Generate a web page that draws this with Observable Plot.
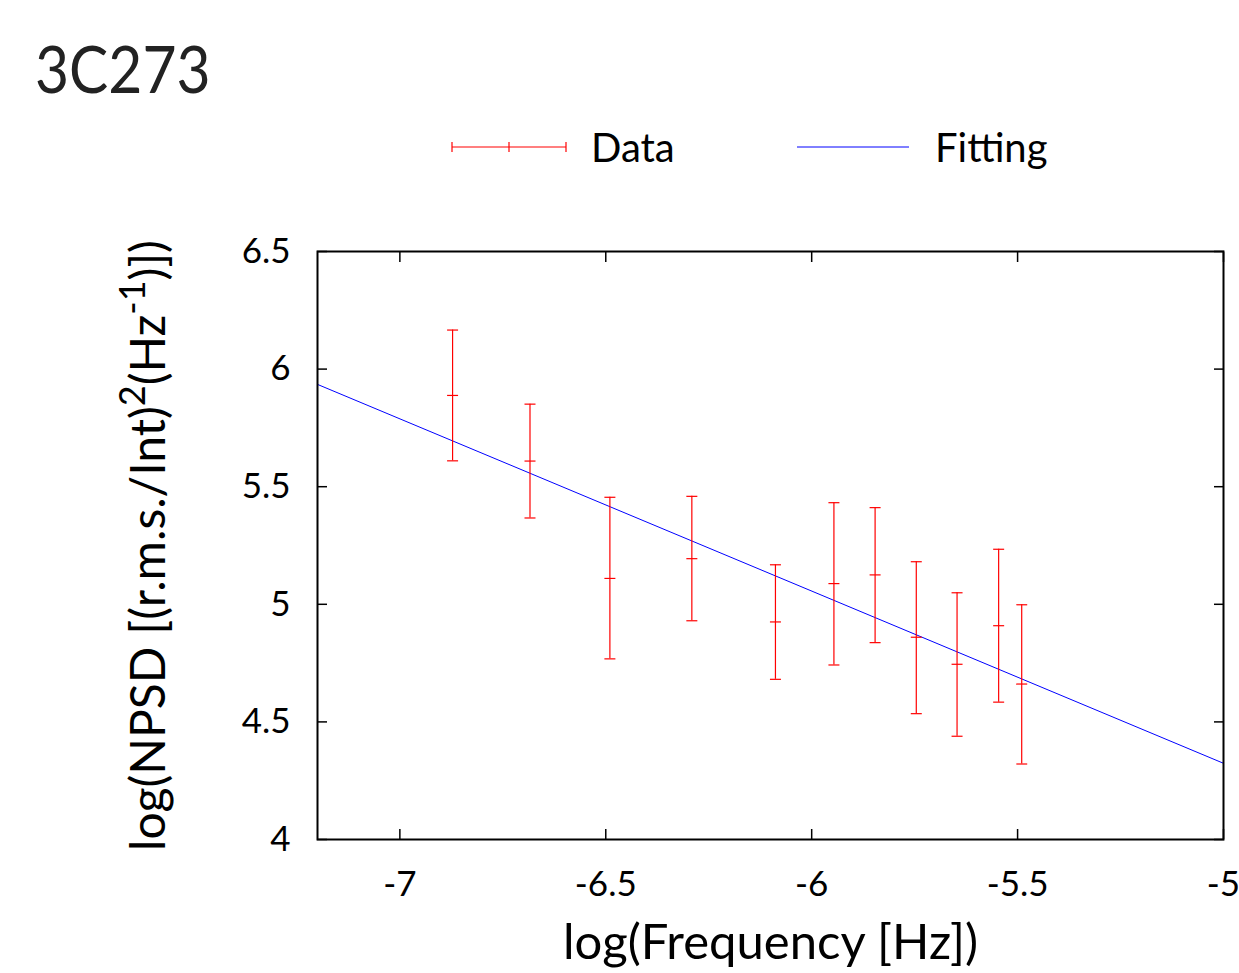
<!DOCTYPE html>
<html><head><meta charset="utf-8">
<script src="https://cdn.jsdelivr.net/npm/d3@7"></script>
<script src="https://cdn.jsdelivr.net/npm/@observablehq/plot@0.6"></script>
<style>
body{margin:0;background:#fff;font-family:Lato, sans-serif;}
#wrap{position:relative;width:1239px;height:973px;overflow:hidden;background:#fff;}
#title{position:absolute;left:35px;top:35px;font-size:66px;line-height:66px;color:#222;white-space:nowrap;transform:scaleX(0.89);transform-origin:left top;}
.leg{position:absolute;top:127px;font-size:40px;line-height:40px;color:#000;white-space:nowrap;}
#legsvg{position:absolute;left:0;top:0;}
#chart{position:absolute;left:0;top:200px;}
</style></head><body>
<div id="wrap">
  <div id="title">3C273</div>
  <svg id="legsvg" width="1239" height="200">
    <g stroke="#ff0000" stroke-width="1.2">
      <line x1="452" y1="147" x2="566" y2="147"/>
      <line x1="452" y1="142" x2="452" y2="152"/>
      <line x1="566" y1="142" x2="566" y2="152"/>
      <line x1="509" y1="142" x2="509" y2="152"/>
    </g>
    <line x1="797" y1="147" x2="909" y2="147" stroke="#0000ff" stroke-width="1"/>
  </svg>
  <div class="leg" style="left:591px">Data</div>
  <div class="leg" style="left:935px">Fitting</div>
  <div id="chart"></div>
</div>
<script>
// log(Frequency [Hz])
const freq  = [-6.872, -6.684, -6.490, -6.291, -6.088, -5.946, -5.846, -5.746, -5.647, -5.546, -5.490];
// log(NPSD)
const npsd  = [5.888, 5.609, 5.110, 5.194, 4.925, 5.088, 5.125, 4.860, 4.745, 4.909, 4.661];
const upper = [6.166, 5.851, 5.455, 5.459, 5.168, 5.432, 5.411, 5.181, 5.049, 5.234, 4.998];
const lower = [5.610, 5.367, 4.768, 4.930, 4.681, 4.742, 4.837, 4.535, 4.439, 4.584, 4.321];
// fitted line end points
const fitFreq = [-7.2, -5];
const fitNpsd = [5.935, 4.324];
const xTicks = [-7, -6.5, -6, -5.5, -5];
const yTicks = [4, 4.5, 5, 5.5, 6, 6.5];

const points = freq.map((f, i) => ({f, v: npsd[i], lo: lower[i], hi: upper[i]}));
const fit = fitFreq.map((f, i) => ({f, v: fitNpsd[i]}));

const hline = {draw(ctx, size) { const r = Math.sqrt(size / Math.PI); ctx.moveTo(-r, 0); ctx.lineTo(r, 0); }};
const red = "#ff0000";

const chart = Plot.plot({
  width: 1239, height: 773,
  marginTop: 51, marginBottom: 134, marginLeft: 317, marginRight: 16,
  style: {fontFamily: "Lato, sans-serif", fontSize: "35px", background: "transparent", color: "#000", overflow: "visible"},
  x: {domain: [-7.2, -5]},
  y: {domain: [4, 6.5]},
  marks: [
    Plot.line(fit, {x: "f", y: "v", stroke: "#0000ff", strokeWidth: 1}),
    Plot.ruleX(points, {x: "f", y1: "lo", y2: "hi", stroke: red, strokeWidth: 1.2}),
    Plot.dot(points, {x: "f", y: "lo", symbol: hline, r: 5.5, stroke: red, fill: "none", strokeWidth: 1.2}),
    Plot.dot(points, {x: "f", y: "hi", symbol: hline, r: 5.5, stroke: red, fill: "none", strokeWidth: 1.2}),
    Plot.dot(points, {x: "f", y: "v", symbol: hline, r: 5.5, stroke: red, fill: "none", strokeWidth: 1.2}),
    Plot.frame({stroke: "#000", strokeWidth: 2}),
    Plot.axisX(xTicks, {anchor: "bottom", tickSize: 0, tickPadding: 32, tickFormat: d => String(d), label: null}),
    Plot.axisY(yTicks, {anchor: "left", tickSize: 0, tickPadding: 27, tickFormat: d => String(d), label: null}),
    Plot.axisX(xTicks, {anchor: "bottom", tickSize: -10, fill: "none", strokeWidth: 1.5, label: null}),
    Plot.axisX(xTicks, {anchor: "top", tickSize: -10, fill: "none", strokeWidth: 1.5, label: null}),
    Plot.axisY(yTicks, {anchor: "left", tickSize: -10, fill: "none", strokeWidth: 1.5, label: null}),
    Plot.axisY(yTicks, {anchor: "right", tickSize: -10, fill: "none", strokeWidth: 1.5, label: null}),
    Plot.text(["log(Frequency [Hz])"], {text: d => d, frameAnchor: "bottom", textAnchor: "middle", dy: 119, lineAnchor: "bottom", fontSize: 49, fill: "#000"}),
    Plot.text(["log(NPSD [(r.m.s./Int)2(Hz-1)])"], {text: d => d, frameAnchor: "left", textAnchor: "middle", rotate: -90, dx: -153, lineAnchor: "bottom", fontSize: 48, fill: "#000"})
  ]
});

d3.select(chart).selectAll("text")
  .filter(function() { return this.textContent.startsWith("log(NPSD"); })
  .each(function() {
    const t = d3.select(this);
    t.attr("text-anchor", "middle");
    t.text(null);
    t.append("tspan").text("log(NPSD [(r.m.s./Int)");
    t.append("tspan").attr("font-size", 36).attr("dy", -20).text("2");
    t.append("tspan").attr("dy", 20).text("(Hz");
    t.append("tspan").attr("font-size", 36).attr("dy", -20).text("-1");
    t.append("tspan").attr("dy", 20).text(")])");
  });

document.getElementById("chart").appendChild(chart);
</script>
</body></html>
